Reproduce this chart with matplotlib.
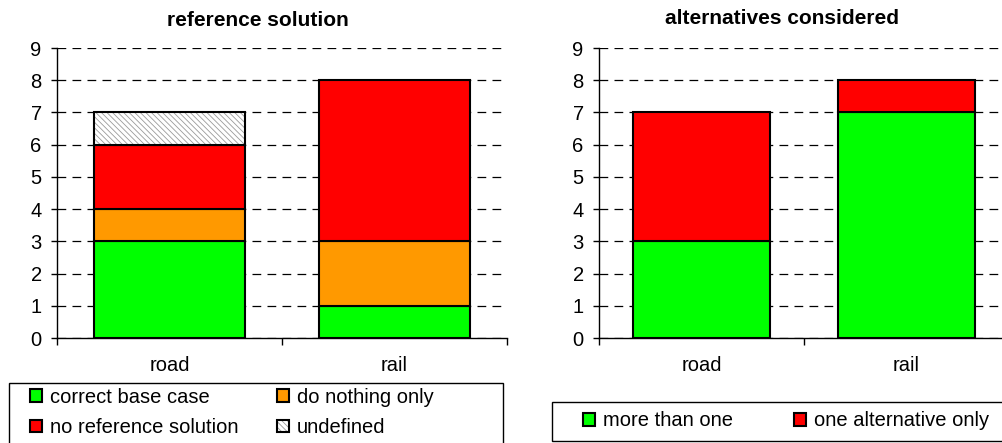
import matplotlib
matplotlib.use("Agg")
import matplotlib.pyplot as plt
from matplotlib.patches import Rectangle
from matplotlib.legend_handler import HandlerTuple
import numpy as np

plt.rcParams["font.family"] = ["Liberation Sans", "DejaVu Sans"]
plt.rcParams["hatch.linewidth"] = 0.6

# ── Data ─────────────────────────────────────────────────────────────────────
categories = ["road", "rail"]

# left: reference solution
ref_correct = [3, 1]
ref_nothing = [1, 2]
ref_noref = [2, 5]
ref_undef = [1, 0]

# right: alternatives considered
alt_more = [3, 7]
alt_one = [4, 1]

GREEN = "#00ff00"
ORANGE = "#ff9900"
RED = "#ff0000"
FS = 14.5

W, H = 1002, 443
fig = plt.figure(figsize=(W / 100, H / 100), dpi=100)


def style_axes(ax):
    ax.set_xlim(-0.5, 1.5)
    ax.set_ylim(0, 9)
    ax.set_yticks(range(10))
    ax.set_axisbelow(True)
    ax.grid(axis="y", color="black", linestyle=(0, (7, 5)), linewidth=0.9)
    for s in ["top", "right"]:
        ax.spines[s].set_visible(False)
    ax.spines["left"].set_linewidth(1)
    ax.spines["bottom"].set_linewidth(1)
    ax.set_xticks([-0.5, 0.5, 1.5])
    ax.set_xticklabels(["", "", ""])
    ax.set_xticks([0, 1], minor=True)
    ax.set_xticklabels(categories, minor=True, fontsize=FS)
    ax.tick_params(axis="x", which="major", direction="out", length=5, width=1)
    ax.tick_params(axis="x", which="minor", length=0, pad=13)
    ax.tick_params(axis="y", direction="out", length=4, width=1, pad=7, labelsize=FS)


x = np.arange(len(categories))

# ── Left: reference solution ─────────────────────────────────────────────────
ax1 = fig.add_axes([57 / W, 1 - 338 / H, 450 / W, 290 / H])
style_axes(ax1)
w1 = 0.675
b1 = ax1.bar(x, ref_correct, w1, color=GREEN, edgecolor="black", linewidth=1.5)
bottom = np.array(ref_correct)
b2 = ax1.bar(x, ref_nothing, w1, bottom=bottom, color=ORANGE, edgecolor="black", linewidth=1.5)
bottom = bottom + np.array(ref_nothing)
b3 = ax1.bar(x, ref_noref, w1, bottom=bottom, color=RED, edgecolor="black", linewidth=1.5)
bottom = bottom + np.array(ref_noref)
mask = np.array(ref_undef) > 0
b4h = ax1.bar(x[mask], np.array(ref_undef)[mask], w1, bottom=bottom[mask], color="white",
              edgecolor="#9a9a9a", linewidth=0, hatch="\\\\\\\\\\\\")
b4o = ax1.bar(x[mask], np.array(ref_undef)[mask], w1, bottom=bottom[mask], color="none",
              edgecolor="black", linewidth=1.5)

# ── Right: alternatives considered ───────────────────────────────────────────
ax2 = fig.add_axes([599 / W, 1 - 338 / H, 410 / W, 290 / H])
style_axes(ax2)
w2 = 0.665
c1 = ax2.bar(x, alt_more, w2, color=GREEN, edgecolor="black", linewidth=1.5)
c2 = ax2.bar(x, alt_one, w2, bottom=alt_more, color=RED, edgecolor="black", linewidth=1.5)

# titles
fig.text(258 / W, 1 - 20 / H, "reference solution", ha="center", va="center",
         fontsize=15, fontweight="bold")
fig.text(782 / W, 1 - 18 / H, "alternatives considered", ha="center", va="center",
         fontsize=15, fontweight="bold")

# legend boxes
fig.patches.append(Rectangle((9 / W, -0.05), 494 / W, 0.05 + (443 - 383) / H,
                             transform=fig.transFigure, facecolor="white",
                             edgecolor="black", linewidth=1))
fig.patches.append(Rectangle((552 / W, 2 / H), 0.5, (441 - 402) / H,
                             transform=fig.transFigure, facecolor="white",
                             edgecolor="black", linewidth=1))

leg_kw = dict(frameon=False, fontsize=FS, handlelength=0.6, handleheight=0.6,
              handletextpad=0.4, borderpad=0, borderaxespad=0, loc="center left")
fig.legend([b1[0], b3[0], b2[0], (b4h[0], b4o[0])],
           ["correct base case", "no reference solution", "do nothing only", "undefined"],
           ncol=2, columnspacing=1.9, labelspacing=0.55,
           handler_map={tuple: HandlerTuple(ndivide=1, pad=0)},
           bbox_to_anchor=(30 / W, 1 - 412.5 / H), **leg_kw)
fig.legend([c1[0], c2[0]], ["more than one", "one alternative only"],
           ncol=2, columnspacing=3.0,
           bbox_to_anchor=(583 / W, 1 - 421 / H), **leg_kw)

fig.savefig("out.png", dpi=100)
